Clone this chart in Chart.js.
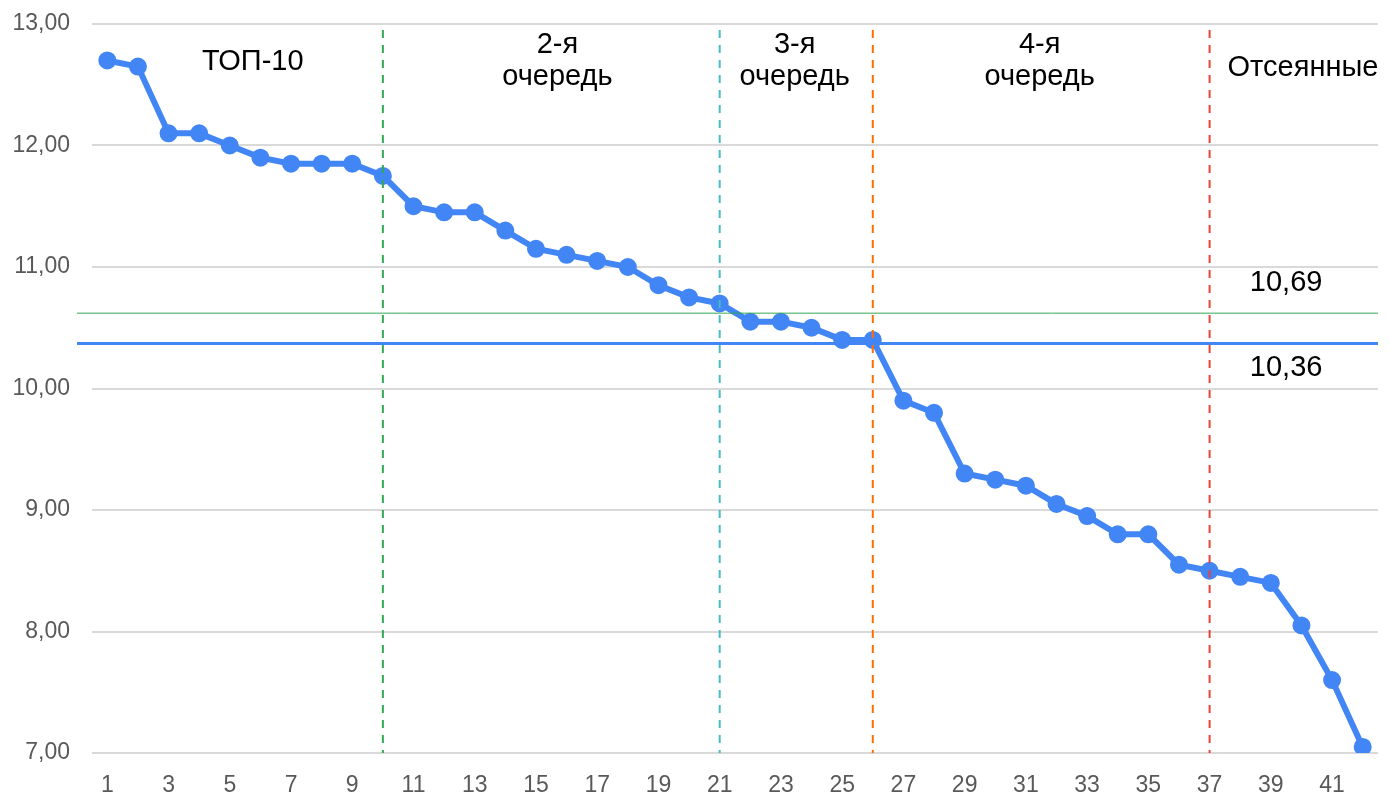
<!DOCTYPE html>
<html>
<head>
<meta charset="utf-8">
<script src="https://cdn.jsdelivr.net/npm/chart.js@4/dist/chart.umd.min.js"></script>
<style>
  html, body { margin: 0; padding: 0; background: #fff; }
  #wrap { width: 1390px; height: 794px; }
</style>
</head>
<body>
<div id="wrap"><canvas id="lineChart"></canvas></div>
<script>
// data
var places = [1,2,3,4,5,6,7,8,9,10,11,12,13,14,15,16,17,18,19,20,21,
              22,23,24,25,26,27,28,29,30,31,32,33,34,35,36,37,38,39,40,41,42];
var scores = [12.70, 12.65, 12.10, 12.10, 12.00, 11.90, 11.85, 11.85, 11.85, 11.75,
              11.50, 11.45, 11.45, 11.30, 11.15, 11.10, 11.05, 11.00, 10.85, 10.75,
              10.70, 10.55, 10.55, 10.50, 10.40, 10.40, 9.90, 9.80, 9.30, 9.25,
              9.20, 9.05, 8.95, 8.80, 8.80, 8.55, 8.50, 8.45, 8.40, 8.05,
              7.60, 7.05];

// vertical borders between groups (place numbers)
var borderPlaces = [10, 21, 26, 37];
var borderColors = ['#34a853', '#46bdc6', '#ff6d01', '#ea4335'];

// group captions: text lines, centre place, y value of first line
var groupLines = [['ТОП-10'], ['2-я', 'очередь'], ['3-я', 'очередь'], ['4-я', 'очередь'], ['Отсеянные']];
var groupX = [5.75, 15.7, 23.45, 31.45, 40.05];
var groupY = [12.69, 12.83, 12.83, 12.83, 12.64];

// reference levels
var levelValues = [10.62, 10.37];
var levelColors = ['#34a853', '#4285f4'];
var levelWidths = [1, 3];
var levelTexts = ['10,69', '10,36'];
var levelTextY = [10.87, 10.17];
var levelTextX = 39.5;

var fontFamily = "'Liberation Sans', Arial, sans-serif";

var overlay = {
  id: 'overlay',
  afterDatasetsDraw: function(chart) {
    var ctx = chart.ctx;
    var xs = chart.scales.x, ys = chart.scales.y, area = chart.chartArea;
    ctx.save();

    // horizontal level lines
    levelValues.forEach(function(v, i) {
      var y = ys.getPixelForValue(v);
      ctx.beginPath();
      ctx.strokeStyle = levelColors[i];
      ctx.lineWidth = levelWidths[i];
      ctx.moveTo(area.left - 15, y);
      ctx.lineTo(area.right, y);
      ctx.stroke();
    });

    // dashed group borders
    ctx.setLineDash([8, 7]);
    borderPlaces.forEach(function(p, i) {
      var x = xs.getPixelForValue(p - 1);
      ctx.beginPath();
      ctx.strokeStyle = borderColors[i];
      ctx.lineWidth = 2;
      ctx.moveTo(x, area.top + 6);
      ctx.lineTo(x, area.bottom);
      ctx.stroke();
    });
    ctx.setLineDash([]);

    // captions
    ctx.fillStyle = '#000';
    ctx.textAlign = 'center';
    ctx.textBaseline = 'middle';
    ctx.font = '29px ' + fontFamily;
    groupLines.forEach(function(lines, i) {
      var x = xs.getPixelForValue(groupX[i] - 1);
      var y = ys.getPixelForValue(groupY[i]);
      lines.forEach(function(t, j) {
        ctx.fillText(t, x, y + j * 32);
      });
    });
    levelTexts.forEach(function(t, i) {
      ctx.fillText(t, xs.getPixelForValue(levelTextX - 1), ys.getPixelForValue(levelTextY[i]));
    });

    ctx.restore();
  }
};

var ctxL = document.getElementById('lineChart').getContext('2d');
var myLineChart = new Chart(ctxL, {
  type: 'line',
  data: {
    labels: places,
    datasets: [{
      label: 'Баллы',
      data: scores,
      borderColor: '#4285f4',
      backgroundColor: '#4285f4',
      borderWidth: 6,
      pointRadius: 6,
      pointHoverRadius: 6,
      tension: 0
    }]
  },
  options: {
    responsive: true,
    maintainAspectRatio: false,
    animation: false,
    layout: { padding: { top: 24, right: 7, left: 0, bottom: 0 } },
    plugins: {
      legend: { display: false },
      tooltip: { enabled: false }
    },
    scales: {
      x: {
        offset: true,
        grid: { display: false },
        border: { display: false },
        ticks: {
          autoSkip: false,
          maxRotation: 0,
          color: '#595959',
          padding: 11,
          font: { family: fontFamily, size: 23 },
          callback: function(v, i) { return i % 2 === 0 ? places[i] : ''; }
        },
        afterFit: function(scale) {
          scale.height = 41;
          scale.paddingLeft = 0;
          scale.paddingRight = 0;
        }
      },
      y: {
        min: 7,
        max: 13,
        grid: { color: '#d9d9d9', lineWidth: 2, drawTicks: false },
        border: { display: false },
        ticks: {
          stepSize: 1,
          color: '#595959',
          padding: 22,
          font: { family: fontFamily, size: 23 },
          callback: function(v) { return v.toFixed(2).replace('.', ','); }
        },
        afterFit: function(scale) {
          scale.width = 92;
          scale.paddingTop = 0;
          scale.paddingBottom = 0;
        }
      }
    }
  },
  plugins: [overlay]
});
</script>
</body>
</html>
